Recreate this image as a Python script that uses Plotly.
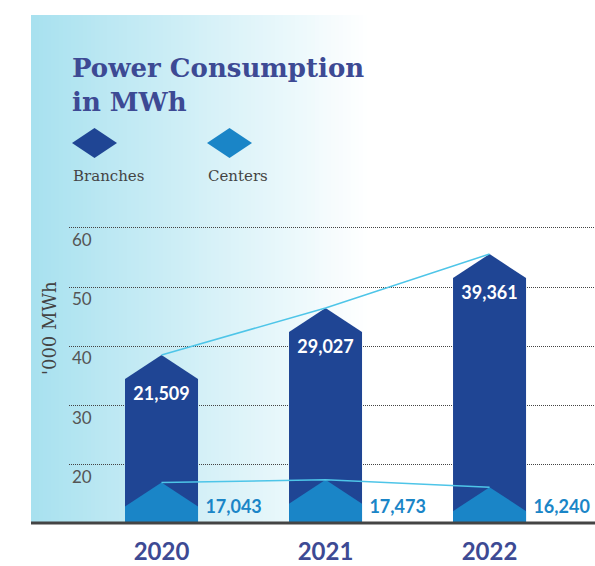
import plotly.graph_objects as go

# Data ('000 MWh)
years = ["2020", "2021", "2022"]
branches = [21.509, 29.027, 39.361]
centers = [17.043, 17.473, 16.240]
y_ticks = [20, 30, 40, 50, 60]

W, H = 595, 566
BOTTOM = 44                  # bottom margin in px
PLOT_H = H - BOTTOM
Y_MIN, Y_MAX = 10.36, 98.48
HALF_W = 0.2226              # half bar width in x units
PEAK = 4.05                  # height of the pointed roof in y units

DARK = "#1f4594"
LIGHT = "#1a85c7"
LINE = "#4ec5e8"
NAVY = "#3d4a94"

# branches are stacked on top of centers
totals = [c + b for c, b in zip(centers, branches)]


def px(x):
    return x / W


def py(y):
    return (PLOT_H - y) / PLOT_H


def pentagon(c, tip):
    shoulder = tip - PEAK
    xs = [c - HALF_W, c - HALF_W, c, c + HALF_W, c + HALF_W, c - HALF_W]
    ys = [Y_MIN, shoulder, tip, shoulder, Y_MIN, Y_MIN]
    return xs, ys


fig = go.Figure()
xpos = list(range(len(years)))

for i in xpos:
    xs, ys = pentagon(i, totals[i])
    fig.add_trace(go.Scatter(x=xs, y=ys, fill="toself", fillcolor=DARK,
                             mode="lines", line=dict(width=0), showlegend=False,
                             hoverinfo="skip"))
    xs, ys = pentagon(i, centers[i])
    fig.add_trace(go.Scatter(x=xs, y=ys, fill="toself", fillcolor=LIGHT,
                             mode="lines", line=dict(width=0), showlegend=False,
                             hoverinfo="skip"))

# connecting lines between bar tips
fig.add_trace(go.Scatter(x=xpos, y=totals, mode="lines",
                         line=dict(color=LINE, width=1.5), showlegend=False))
fig.add_trace(go.Scatter(x=xpos, y=centers, mode="lines",
                         line=dict(color=LINE, width=1.5), showlegend=False))

# value labels
fig.add_trace(go.Scatter(
    x=xpos, y=[t - PEAK - 1.2 for t in totals], mode="text",
    text=[f"{v * 1000:,.0f}" for v in branches], textposition="bottom center",
    textfont=dict(family="Lato", size=18, color="white", weight="bold"),
    showlegend=False))
fig.add_trace(go.Scatter(
    x=[i + HALF_W + 0.045 for i in xpos], y=[12.7] * 3, mode="text",
    text=[f"{v * 1000:,.0f}" for v in centers], textposition="middle right",
    textfont=dict(family="Lato", size=18, color=LIGHT, weight="bold"),
    showlegend=False))

# gradient background panel
shapes = []
x_left, x_right, step = 31, 372, 4
c0 = (168, 225, 239)
n = (x_right - x_left) // step
for k in range(n):
    t = k / (n - 1)
    r, g, b = [round(a + (255 - a) * t) for a in c0]
    shapes.append(dict(type="rect", xref="paper", yref="paper", layer="below",
                       x0=px(x_left + k * step), x1=px(x_left + (k + 1) * step + 0.5),
                       y0=py(522), y1=py(15),
                       fillcolor=f"rgb({r},{g},{b})", line=dict(width=0)))

# baseline
shapes.append(dict(type="line", xref="paper", yref="paper",
                   x0=px(31), x1=1, y0=py(523), y1=py(523),
                   line=dict(color="#444444", width=3)))

# legend diamonds
for cx, col in [(94.5, DARK), (229.5, LIGHT)]:
    cy = 143
    path = (f"M {px(cx - 22.5)},{py(cy)} L {px(cx)},{py(cy - 15)} "
            f"L {px(cx + 22.5)},{py(cy)} L {px(cx)},{py(cy + 15)} Z")
    shapes.append(dict(type="path", xref="paper", yref="paper", path=path,
                       fillcolor=col, line=dict(width=0)))

annotations = [
    dict(text="Power Consumption<br>in MWh", xref="paper", yref="paper",
         x=px(70), y=py(51), xanchor="left", yanchor="top", align="left",
         showarrow=False,
         font=dict(family="DejaVu Serif", size=26, color=NAVY, weight="bold")),
    dict(text="Branches", xref="paper", yref="paper", x=px(71), y=py(176),
         xanchor="left", yanchor="middle", showarrow=False,
         font=dict(family="DejaVu Serif", size=15, color="#444444")),
    dict(text="Centers", xref="paper", yref="paper", x=px(206), y=py(176),
         xanchor="left", yanchor="middle", showarrow=False,
         font=dict(family="DejaVu Serif", size=15, color="#444444")),
    dict(text="'000 MWh", xref="paper", yref="paper", x=px(49), y=py(328),
         xanchor="center", yanchor="middle", textangle=-90, showarrow=False,
         font=dict(family="DejaVu Serif", size=18, color="#444444")),
]

fig.update_layout(
    width=W, height=H,
    margin=dict(l=0, r=0, t=0, b=BOTTOM, autoexpand=False),
    plot_bgcolor="white", paper_bgcolor="white",
    showlegend=False,
    shapes=shapes,
    annotations=annotations,
    xaxis=dict(domain=[px(69), 1], range=[-0.564, 2.643], automargin=False,
               tickvals=xpos, ticktext=years, showgrid=False, zeroline=False,
               showline=False, ticks="", ticklabelstandoff=13,
               tickfont=dict(family="Lato", size=24, color=NAVY, weight="bold"),
               fixedrange=True),
    yaxis=dict(range=[Y_MIN, Y_MAX], tickvals=y_ticks, showgrid=True,
               automargin=False,
               griddash="1px,1px", gridcolor="#444444", gridwidth=1,
               zeroline=False, showline=False, ticks="",
               ticklabelposition="inside", ticklabelshift=12,
               tickfont=dict(family="Lato", size=17, color="#555555"),
               fixedrange=True),
)

fig.write_html("out.html", config={"displayModeBar": False},
               post_script="document.body.style.margin='0px';")
